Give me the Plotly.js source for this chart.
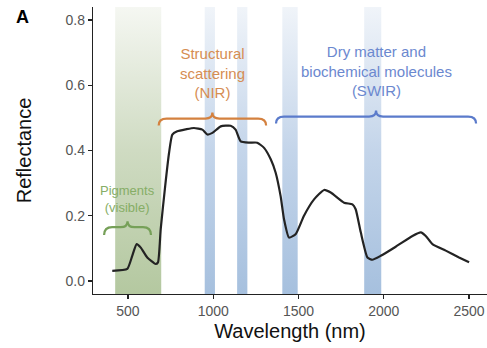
<!DOCTYPE html>
<html>
<head>
<meta charset="utf-8">
<script src="https://cdn.plot.ly/plotly-3.0.1.min.js"></script>
<style>html,body{margin:0;padding:0;background:#fff;}#chart{width:487px;height:348px;}</style>
</head>
<body>
<div id="chart"></div>
<script>
// ---- data ----
const wavelength = [408, 496, 525, 551, 574, 613, 662, 676, 692, 718, 741, 760, 789, 840, 887, 936, 966, 995, 1044, 1102, 1131, 1161, 1210, 1258, 1298, 1337, 1366, 1395, 1415, 1444, 1484, 1532, 1591, 1650, 1689, 1767, 1816, 1835, 1865, 1904, 1933, 1982, 2070, 2168, 2217, 2246, 2285, 2363, 2441, 2500];
const reflectance = [0.031, 0.037, 0.077, 0.113, 0.103, 0.072, 0.052, 0.057, 0.159, 0.29, 0.393, 0.449, 0.459, 0.465, 0.469, 0.464, 0.449, 0.454, 0.474, 0.476, 0.464, 0.428, 0.424, 0.424, 0.408, 0.373, 0.332, 0.26, 0.189, 0.133, 0.144, 0.2, 0.25, 0.279, 0.271, 0.24, 0.235, 0.22, 0.149, 0.072, 0.065, 0.077, 0.105, 0.138, 0.149, 0.138, 0.113, 0.093, 0.072, 0.057];

// shaded spectral regions (nm)
const bandStart = [425, 950, 1140, 1405, 1885];
const bandEnd   = [695, 1010, 1200, 1495, 1985];
const bandKind  = ['visible', 'water', 'water', 'water', 'water'];

// braces (nm span, reflectance level)
const braceStart = [360, 680, 1368];
const braceEnd   = [635, 1310, 2541];
const braceLevel = [0.165, 0.498, 0.504];
const braceLabels = ['Pigments<br>(visible)', 'Structural<br>scattering<br>(NIR)', 'Dry matter and<br>biochemical molecules<br>(SWIR)'];

const xTicks = [500, 1000, 1500, 2000, 2500];
const yTicks = [0, 0.2, 0.4, 0.6, 0.8];

// ---- styles ----
const braceColors = ['#76a058', '#d4813f', '#5b7bcb'];
const labelColors = ['#86ad66', '#d68d52', '#6b88cf'];
const gradients = {
  visible: [[0, '#b4c8a0'], [0.5, '#cfdbc2'], [1, '#f5f7f2']],
  water: [[0, '#a6c0de'], [0.5, '#c4d5ea'], [1, '#f0f4f9']]
};
const X0 = 295, X1 = 2605, Y0 = -0.04, Y1 = 0.84;
const nmPerPx = 1 / 0.1705, rPerPx = 1 / 327.5;

const traces = [];
bandStart.forEach((s, i) => {
  const e = bandEnd[i];
  traces.push({
    type: 'scatter', mode: 'none', x: [s, e, e, s, s], y: [Y0, Y0, Y1, Y1, Y0],
    fill: 'toself', hoverinfo: 'skip', showlegend: false,
    fillgradient: { type: 'vertical', start: Y0, stop: Y1, colorscale: gradients[bandKind[i]] }
  });
});
traces.push({
  type: 'scatter', mode: 'lines', x: wavelength, y: reflectance,
  line: { color: '#232323', width: 2.2, shape: 'spline', smoothing: 0.5 },
  showlegend: false, hoverinfo: 'skip'
});

function bracePath(x0, x1, y, hookPx, tipPx) {
  const w = 8 * nmPerPx, d = hookPx * rPerPx, t = tipPx * rPerPx, tw = 7 * nmPerPx;
  const xm = (x0 + x1) / 2;
  return `M${x0},${y - d} Q${x0},${y} ${x0 + w},${y} L${xm - tw},${y} Q${xm},${y} ${xm},${y + t} Q${xm},${y} ${xm + tw},${y} L${x1 - w},${y} Q${x1},${y} ${x1},${y - d}`;
}

const shapes = braceStart.map((s, i) => ({
  type: 'path', xref: 'x', yref: 'y',
  path: bracePath(s, braceEnd[i], braceLevel[i], i === 0 ? 8 : 7, 6),
  line: { color: braceColors[i], width: 2.2 }
}));

const labelOffset = [0.085, 0.14, 0.14];
const annotations = braceStart.map((s, i) => ({
  x: (s + braceEnd[i]) / 2, y: braceLevel[i] + labelOffset[i], xref: 'x', yref: 'y',
  text: braceLabels[i], showarrow: false, xanchor: 'center', yanchor: 'middle',
  font: { family: 'Liberation Sans, Arial, sans-serif', size: i === 0 ? 13 : 15, color: labelColors[i] }
}));
annotations.push({
  xref: 'paper', yref: 'paper', x: 0, y: 1, xanchor: 'left', yanchor: 'top',
  xshift: -79, yshift: 2,
  text: '<b>A</b>', showarrow: false,
  font: { family: 'Liberation Sans, Arial, sans-serif', size: 18, color: '#000' }
});

const layout = {
  width: 487, height: 348,
  margin: { l: 93, r: 0, t: 7, b: 54 },
  paper_bgcolor: '#fff', plot_bgcolor: '#fff',
  font: { family: 'Liberation Sans, Arial, sans-serif' },
  xaxis: {
    range: [X0, X1], tickvals: xTicks, ticktext: xTicks.map(String),
    showgrid: false, zeroline: false, showline: true, linecolor: '#222', linewidth: 1.2,
    ticks: 'outside', ticklen: 4, tickcolor: '#222', tickwidth: 1.2,
    tickfont: { size: 14, color: '#555' },
    title: { text: 'Wavelength (nm)', font: { size: 20, color: '#111' }, standoff: 6 }
  },
  yaxis: {
    range: [Y0, Y1], tickvals: yTicks, ticktext: yTicks.map(v => v.toFixed(1)),
    showgrid: false, zeroline: false, showline: true, linecolor: '#222', linewidth: 1.2,
    ticks: 'outside', ticklen: 4, tickcolor: '#222', tickwidth: 1.2,
    tickfont: { size: 14, color: '#555' },
    title: { text: 'Reflectance', font: { size: 20, color: '#111' }, standoff: 28 }
  },
  shapes: shapes,
  annotations: annotations,
  showlegend: false
};

Plotly.newPlot('chart', traces, layout, { displayModeBar: false, staticPlot: true });
</script>
</body>
</html>
